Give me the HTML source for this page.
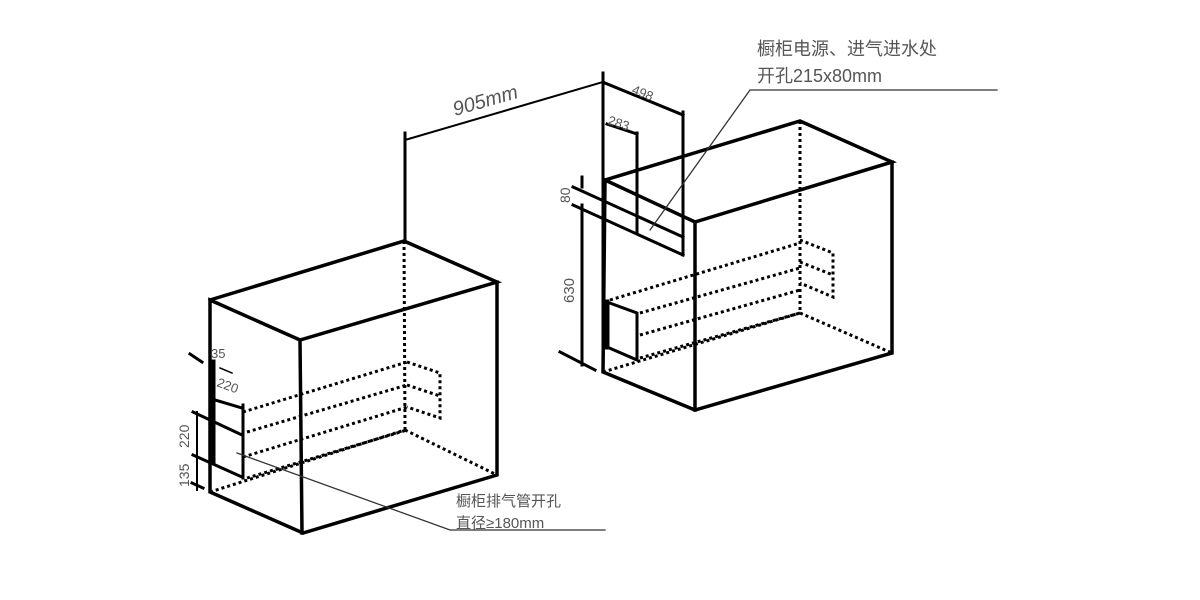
<!DOCTYPE html>
<html><head><meta charset="utf-8"><style>
html,body{margin:0;padding:0;background:#fff;}
svg{display:block;}
text{font-family:"Liberation Sans","Noto Sans CJK SC",sans-serif;fill:#555;}
</style></head><body>
<svg width="1200" height="600" viewBox="0 0 1200 600" xmlns="http://www.w3.org/2000/svg">
<g stroke="#000" fill="none" stroke-linecap="square">
<g stroke-width="3.5">
<polyline points="210,300 404,241 497,282 300,340 210,300 210,492 303,533 497,475 497,282"/>
<line x1="300" y1="340" x2="302" y2="533"/>
</g>
<g stroke-width="3" stroke-dasharray="3,3" stroke-linecap="butt">
<line x1="404" y1="241" x2="405" y2="430"/>
<line x1="210" y1="492" x2="405" y2="430"/>
<line x1="405" y1="430" x2="497" y2="475"/>
<line x1="243" y1="412" x2="407" y2="362"/>
<line x1="247" y1="432" x2="407" y2="385"/>
<line x1="243" y1="457" x2="407" y2="407"/>
<line x1="247" y1="478" x2="407" y2="430"/>
<polyline points="407,362 440,373 440,418 407,407"/>
<line x1="407" y1="385" x2="440" y2="396"/>
</g>
<line x1="213" y1="362" x2="213" y2="462" stroke-width="5"/>
<g stroke-width="3">
<line x1="193" y1="412" x2="242" y2="435"/>
<line x1="193" y1="455" x2="242" y2="477"/>
<line x1="243" y1="405" x2="243" y2="478"/>
<line x1="215" y1="400" x2="242" y2="408"/>
<line x1="190" y1="354" x2="202" y2="362"/>
<line x1="192" y1="483" x2="203" y2="488"/>
</g>
<line x1="220" y1="368" x2="232" y2="373" stroke-width="1.5"/>
<line x1="197" y1="412" x2="197" y2="490" stroke-width="2"/>
<polyline points="237,453 450,530 605,530" stroke-width="1.3" stroke="#333"/>

<g stroke-width="3">
<line x1="405" y1="133" x2="405" y2="240"/>
<line x1="603" y1="73" x2="603" y2="372"/>
<line x1="683" y1="112" x2="683" y2="255"/>
<line x1="637" y1="133" x2="637" y2="233"/>
<line x1="605" y1="83" x2="683" y2="115"/>
<line x1="607" y1="124" x2="637" y2="134"/>
<line x1="573" y1="187" x2="683" y2="237"/>
<line x1="573" y1="205" x2="683" y2="255"/>
<line x1="582" y1="177" x2="582" y2="187"/>
<line x1="582" y1="205" x2="582" y2="365"/>
<line x1="560" y1="352" x2="595" y2="370"/>
</g>
<line x1="405" y1="140" x2="603" y2="82" stroke-width="2"/>

<g stroke-width="3.5">
<polyline points="605,180 800,121 892,162 695,222 605,180 603,372 695,410 892,353 892,162"/>
<line x1="695" y1="222" x2="695" y2="410"/>
</g>
<g stroke-width="3" stroke-dasharray="3,3" stroke-linecap="butt">
<line x1="800" y1="121" x2="800" y2="313"/>
<line x1="603" y1="372" x2="800" y2="313"/>
<line x1="800" y1="313" x2="892" y2="353"/>
<line x1="610" y1="300" x2="800" y2="243"/>
<line x1="640" y1="313" x2="800" y2="268"/>
<line x1="640" y1="335" x2="800" y2="290"/>
<line x1="640" y1="358" x2="800" y2="313"/>
<polyline points="800,240 833,253 833,297 800,283"/>
<line x1="800" y1="262" x2="833" y2="275"/>
</g>
<line x1="607" y1="302" x2="607" y2="347" stroke-width="5"/>
<polyline points="607,302 637,313 637,360 607,347" stroke-width="3"/>
<polyline points="650,230 750,90 997,90" stroke-width="1.3" stroke="#333"/>
</g>

<text x="455" y="116" font-size="20" transform="rotate(-16 455 116)" font-style="italic">905mm</text>
<text x="631" y="93" font-size="13" transform="rotate(22 631 93)">498</text>
<text x="607" y="124" font-size="13" transform="rotate(18 607 124)">283</text>
<text x="570" y="203" font-size="14" transform="rotate(-90 570 203)">80</text>
<text x="574" y="303" font-size="15" transform="rotate(-90 574 303)">630</text>
<text x="757" y="55" font-size="18">橱柜电源、进气进水处</text>
<text x="757" y="82" font-size="18">开孔215x80mm</text>
<text x="211" y="358" font-size="13">35</text>
<text x="216" y="386" font-size="13" transform="rotate(20 216 386)">220</text>
<text x="189" y="448" font-size="14" transform="rotate(-90 189 448)">220</text>
<text x="189" y="487" font-size="14" transform="rotate(-90 189 487)">135</text>
<text x="456" y="506" font-size="15">橱柜排气管开孔</text>
<text x="456" y="528" font-size="15">直径≥180mm</text>
</svg>
</body></html>
